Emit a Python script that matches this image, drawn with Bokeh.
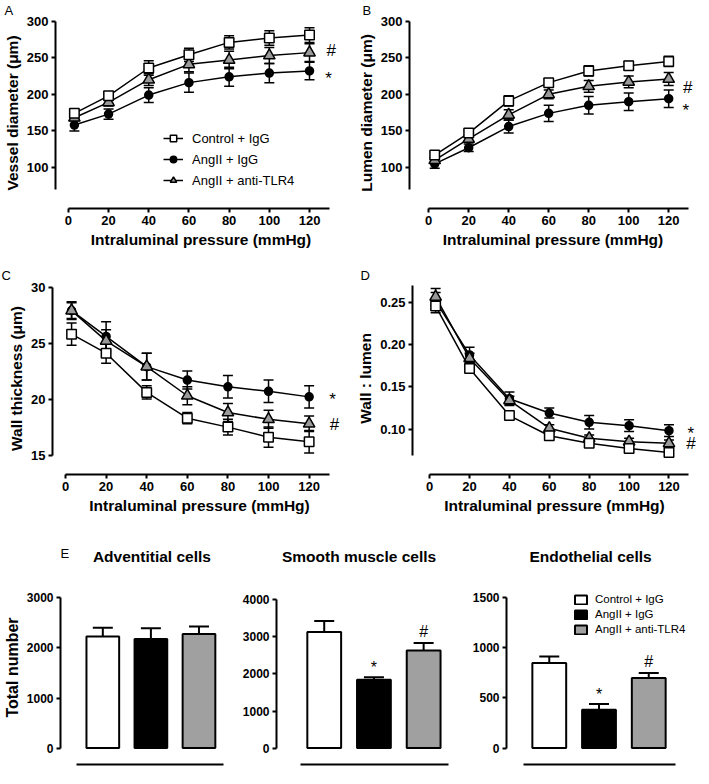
from bokeh.plotting import figure
from bokeh.models import (ColumnDataSource, Whisker, TeeHead, FixedTicker, Label,
                          Legend, LegendItem, Range1d, NumeralTickFormatter)
from bokeh.layouts import column, row
from bokeh.embed import file_html
from bokeh.resources import INLINE

FONT = "Liberation Sans"

# ---------------- data ----------------
pressure = [3, 20, 40, 60, 80, 100, 120]
pressure_ticks = [0, 20, 40, 60, 80, 100, 120]
groups = ["Control + IgG", "AngII + IgG", "AngII + anti-TLR4"]

vessel_ctrl = [174, 198, 236, 254, 271, 277, 281]
vessel_ctrl_err = [4, 5, 10, 9, 9, 10, 10]
vessel_ang = [158, 173, 199, 216, 224, 229, 232]
vessel_ang_err = [8, 7, 10, 13, 13, 13, 12]
vessel_tlr = [168, 189, 220, 241, 247, 253, 257]
vessel_tlr_err = [4, 5, 8, 10, 12, 11, 12]

lumen_ctrl = [117, 147, 191, 216, 232, 239, 245]
lumen_ctrl_err = [4, 3, 7, 5, 7, 6, 7]
lumen_ang = [105, 127, 156, 174, 185, 190, 194]
lumen_ang_err = [6, 5, 9, 11, 12, 12, 12]
lumen_tlr = [110, 139, 172, 200, 211, 217, 221]
lumen_tlr_err = [4, 4, 7, 6, 8, 8, 9]

wall_ctrl = [25.8, 24.1, 20.6, 18.3, 17.5, 16.6, 16.2]
wall_ctrl_err = [1.0, 0.9, 0.6, 0.5, 0.7, 0.9, 1.0]
wall_ang = [27.9, 25.6, 22.9, 21.7, 21.1, 20.7, 20.2]
wall_ang_err = [0.8, 1.3, 1.2, 0.8, 1.0, 1.0, 1.0]
wall_tlr = [27.9, 25.2, 22.9, 20.3, 18.8, 18.2, 17.8]
wall_tlr_err = [0.7, 1.0, 1.2, 0.8, 0.8, 0.8, 0.7]

ratio_ctrl = [0.246, 0.172, 0.116, 0.092, 0.083, 0.077, 0.072]
ratio_ctrl_err = [0.008, 0.004, 0.004, 0.003, 0.003, 0.003, 0.003]
ratio_ang = [0.252, 0.188, 0.136, 0.119, 0.108, 0.104, 0.098]
ratio_ang_err = [0.010, 0.009, 0.008, 0.006, 0.008, 0.007, 0.007]
ratio_tlr = [0.257, 0.184, 0.134, 0.101, 0.089, 0.085, 0.083]
ratio_tlr_err = [0.010, 0.006, 0.005, 0.004, 0.004, 0.004, 0.004]

adventitial = [2230, 2180, 2280]
adventitial_err = [170, 210, 145]
smooth = [3130, 1845, 2630]
smooth_err = [295, 65, 207]
endothelial = [850, 383, 700]
endothelial_err = [63, 57, 50]

bar_colors = ["white", "black", "#a0a0a0"]
bar_marks_smooth = ["", "*", "#"]
bar_marks_endo = ["", "*", "#"]

STYLES = [dict(marker="square", size=9.5, fill="white"),
          dict(marker="circle", size=8, fill="black"),
          dict(marker="triangle", size=11.5, fill="#9a9a9a")]


# ---------------- helpers ----------------
def base_fig(width, height, xr, yr, left, right, top, bottom):
    p = figure(width=width, height=height, x_range=Range1d(*xr), y_range=Range1d(*yr),
               output_backend="svg", toolbar_location=None,
               min_border_left=left, min_border_right=right,
               min_border_top=top, min_border_bottom=bottom)
    p.outline_line_color = None
    p.xgrid.visible = False
    p.ygrid.visible = False
    p.background_fill_color = "white"
    p.border_fill_color = "white"
    return p


def style_axis(ax, tick_size, label_size):
    ax.axis_line_width = 2
    ax.axis_line_color = "black"
    ax.major_tick_line_width = 2
    ax.major_tick_line_color = "black"
    ax.major_tick_out = 4
    ax.major_tick_in = 0
    ax.minor_tick_line_color = None
    ax.major_label_text_font = FONT
    ax.major_label_text_font_style = "bold"
    ax.major_label_text_font_size = tick_size
    ax.major_label_text_color = "black"
    ax.axis_label_text_font = FONT
    ax.axis_label_text_font_style = "bold"
    ax.axis_label_text_font_size = label_size
    ax.axis_label_text_color = "black"
    ax.major_label_standoff = 3
    ax.axis_label_standoff = 3


def add_text(p, x, y, text, size="13px", style="normal", align="left",
             baseline="middle", x_offset=0, y_offset=0):
    p.add_layout(Label(x=x, y=y, text=text, text_font=FONT, text_font_size=size,
                       text_font_style=style, text_align=align, text_baseline=baseline,
                       x_offset=x_offset, y_offset=y_offset, text_color="black"))


def set_letter(p, letter, offset):
    p.title.text = letter
    p.title.align = "left"
    p.title.offset = offset
    p.title.standoff = 0
    p.title.text_font = FONT
    p.title.text_font_size = "13px"
    p.title.text_font_style = "normal"
    p.title.text_color = "black"


def line_panel(width, height, left, right, top, bottom, xr, yr, ybounds, yticks,
               ylabel, series, letter, letter_offset, marks, yfmt=None, legend_loc=None):
    p = base_fig(width, height, xr, yr, left, right, top, bottom)
    style_axis(p.xaxis[0], "13px", "15.5px")
    style_axis(p.yaxis[0], "13px", "15.5px")
    p.xaxis.bounds = (0, 130)
    p.xaxis.ticker = FixedTicker(ticks=pressure_ticks)
    p.xaxis.axis_label = "Intraluminal pressure (mmHg)"
    p.yaxis.bounds = ybounds
    p.yaxis.ticker = FixedTicker(ticks=yticks)
    p.yaxis.axis_label = ylabel
    if yfmt:
        p.yaxis.formatter = NumeralTickFormatter(format=yfmt)
    rends = {}
    for idx in (1, 2, 0):
        vals, errs = series[idx]
        st = STYLES[idx]
        src = ColumnDataSource(dict(x=pressure, y=vals,
                                    upper=[v + e for v, e in zip(vals, errs)],
                                    lower=[v - e for v, e in zip(vals, errs)]))
        p.add_layout(Whisker(source=src, base="x", upper="upper", lower="lower",
                             line_width=1.5, line_color="black",
                             upper_head=TeeHead(size=10, line_width=1.5, line_color="black"),
                             lower_head=TeeHead(size=10, line_width=1.5, line_color="black")))
        ln = p.line("x", "y", source=src, line_color="black", line_width=1.5)
        sc = p.scatter("x", "y", source=src, marker=st["marker"], size=st["size"],
                       fill_color=st["fill"], line_color="black", line_width=1.5)
        rends[idx] = (ln, sc)
    set_letter(p, letter, letter_offset)
    for (mx, my, mt) in marks:
        add_text(p, mx, my, mt, size="17px", align="center", baseline="middle",
                 y_offset=(-4 if mt == "*" else 0))
    if legend_loc is not None:
        items = [LegendItem(label=groups[i], renderers=list(rends[i])) for i in (0, 1, 2)]
        lg = Legend(items=items, location=legend_loc, glyph_width=20, glyph_height=16,
                    label_height=16, label_standoff=9, spacing=5, padding=0, margin=0,
                    border_line_color=None, background_fill_alpha=0,
                    label_text_font=FONT, label_text_font_size="13px",
                    label_text_color="black")
        p.add_layout(lg)
    return p


def bar_panel(width, height, left, right, top, xr, yr, xbounds, ybounds, yticks, vals, errs,
              marks, title=None, title_xy=None, ylabel=None, legend_loc=None):
    p = base_fig(width, height, xr, yr, left, right, top, 4)
    style_axis(p.xaxis[0], "12px", "15.5px")
    style_axis(p.yaxis[0], "12px", "16px")
    p.xaxis.bounds = xbounds
    p.xaxis.ticker = FixedTicker(ticks=[])
    p.xaxis.major_tick_out = 0
    p.xaxis.major_label_standoff = 0
    p.yaxis.bounds = ybounds
    p.yaxis.ticker = FixedTicker(ticks=yticks)
    if ylabel:
        p.yaxis.axis_label = ylabel
    src = ColumnDataSource(dict(x=[1, 2, 3], top=vals,
                                upper=[v + e for v, e in zip(vals, errs)],
                                lower=vals, color=bar_colors, label=groups))
    p.add_layout(Whisker(source=src, base="x", upper="upper", lower="lower",
                         line_width=2, line_color="black",
                         upper_head=TeeHead(size=20, line_width=2, line_color="black"),
                         lower_head=None))
    r = p.vbar(x="x", top="top", width=0.68, source=src, fill_color="color",
               line_color="black", line_width=2)
    if title is not None:
        add_text(p, title_xy[0], title_xy[1], title, size="15.5px", style="bold",
                 align="center", baseline="middle")
    for i, m in enumerate(marks):
        if m:
            add_text(p, i + 1, vals[i] + errs[i], m, size="16px", align="center",
                     baseline="bottom", y_offset=(1 if m == "*" else 3))
    if legend_loc is not None:
        items = [LegendItem(label=groups[i], renderers=[r], index=i) for i in range(3)]
        lg = Legend(items=items, location=legend_loc, glyph_width=15, glyph_height=11,
                    label_height=11, label_standoff=7, spacing=3, padding=0, margin=0,
                    border_line_color=None, background_fill_alpha=0,
                    label_text_font=FONT, label_text_font_size="11.5px",
                    label_text_color="black")
        p.add_layout(lg)
    return p


# ---------------- panels ----------------
pA = line_panel(348, 256, 52, 2, 16, 48, (-6.4, 138.4), (44, 305), (70, 300),
                [100, 150, 200, 250, 300], "Vessel diameter (\u03bcm)",
                [(vessel_ctrl, vessel_ctrl_err), (vessel_ang, vessel_ang_err),
                 (vessel_tlr, vessel_tlr_err)],
                "A", -51, [(130.8, 260.5, "#"), (129.5, 226.5, "*")],
                legend_loc=(108, 20))

pB = line_panel(348, 256, 61, 0, 16, 48, (-9.6, 133.9), (44, 305), (70, 300),
                [100, 150, 200, 250, 300], "Lumen diameter (\u03bcm)",
                [(lumen_ctrl, lumen_ctrl_err), (lumen_ang, lumen_ang_err),
                 (lumen_tlr, lumen_tlr_err)],
                "B", -47, [(129.5, 210, "#"), (128.5, 183, "*")])

pC = line_panel(348, 266, 52, 2, 26, 48, (-6.4, 138.4), (13.27, 30.41), (15, 30),
                [15, 20, 25, 30], "Wall thickness (\u03bcm)",
                [(wall_ctrl, wall_ctrl_err), (wall_ang, wall_ang_err),
                 (wall_tlr, wall_tlr_err)],
                "C", -51, [(132.5, 17.73, "#"), (131.5, 20.3, "*")])

pD = line_panel(348, 266, 64, 0, 26, 48, (-8.6, 133.8), (0.046, 0.274), (0.068, 0.27),
                [0.10, 0.15, 0.20, 0.25], "Wall : lumen",
                [(ratio_ctrl, ratio_ctrl_err), (ratio_ang, ratio_ang_err),
                 (ratio_tlr, ratio_tlr_err)],
                "D", -52, [(131, 0.0825, "#"), (131, 0.100, "*")], yfmt="0.00")

# header strip above the adventitial panel: panel letter and title
head = figure(width=239, height=44, x_range=Range1d(0, 239), y_range=Range1d(0, 44),
              output_backend="svg", toolbar_location=None,
              min_border_left=0, min_border_right=0, min_border_top=0, min_border_bottom=0)
head.axis.visible = False
head.grid.visible = False
head.outline_line_color = None
add_text(head, 0, 21, "E", size="13px", baseline="top")
add_text(head, 134, 10, "Adventitial cells", size="15.5px", style="bold",
         align="center", baseline="middle")

pE1 = bar_panel(239, 202, 54, 16, 4, (0.12, 3.51), (-327, 3545), (0.46, 3.51), (0, 3000),
                [0, 1000, 2000, 3000], adventitial, adventitial_err,
                ["", "", ""], ylabel="Total number")

pE2 = bar_panel(230, 246, 36, 21, 4, (0.04, 3.5), (-442, 5976), (0.52, 3.5), (0, 4000),
                [0, 1000, 2000, 3000, 4000], smooth, smooth_err, bar_marks_smooth,
                title="Smooth muscle cells", title_xy=(1.7, 5167))

pE3 = bar_panel(228, 246, 36, 4, 4, (0.14, 3.9), (-164, 2212), (0.48, 3.54), (0, 1500),
                [0, 500, 1000, 1500], endothelial, endothelial_err, bar_marks_endo,
                title="Endothelial cells", title_xy=(1.83, 1912), legend_loc=(67, 129))

layout = column(row(pA, pB), row(pC, pD), row(column(head, pE1), pE2, pE3))

open("out.html", "w").write(file_html(layout, INLINE))
